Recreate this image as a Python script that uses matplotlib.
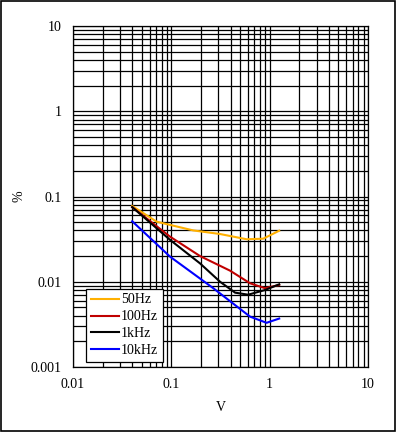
import matplotlib
matplotlib.use('Agg')
import matplotlib.pyplot as plt
import matplotlib.ticker as ticker

plt.rcParams['font.family'] = ['Liberation Serif', 'DejaVu Serif']

# values (V, %)
v_50hz = [0.04, 0.071, 0.167, 0.313, 0.584, 0.861, 1.25]
thd_50hz = [0.0774, 0.0506, 0.040, 0.0363, 0.0315, 0.032, 0.0397]

v_100hz = [0.04, 0.097, 0.196, 0.395, 0.631, 0.897, 1.25]
thd_100hz = [0.075, 0.0338, 0.020, 0.0135, 0.0096, 0.0084, 0.00916]

v_1khz = [0.04, 0.097, 0.196, 0.313, 0.445, 0.604, 0.897, 1.25]
thd_1khz = [0.075, 0.031, 0.0164, 0.0100, 0.00745, 0.00705, 0.008, 0.00933]

v_10khz = [0.04, 0.097, 0.267, 0.631, 0.93, 1.25]
thd_10khz = [0.0512, 0.0197, 0.0084, 0.0039, 0.0033, 0.0037]

x_ticks = [0.01, 0.1, 1, 10]
x_labels = ['0.01', '0.1', '1', '10']
y_ticks = [0.001, 0.01, 0.1, 1, 10]
y_labels = ['0.001', '0.01', '0.1', '1', '10']

fig = plt.figure(figsize=(3.96, 4.32), dpi=100)
ax = fig.add_axes([73 / 396, 1 - 367 / 432, 295 / 396, 341 / 432])

ax.plot(v_50hz, thd_50hz, color='#FFB000', linewidth=1.5, label='50Hz')
ax.plot(v_100hz, thd_100hz, color='#C00000', linewidth=1.5, label='100Hz')
ax.plot(v_1khz, thd_1khz, color='black', linewidth=1.5, label='1kHz')
ax.plot(v_10khz, thd_10khz, color='#0000FF', linewidth=1.5, label='10kHz')

ax.set_xscale('log')
ax.set_yscale('log')
ax.set_xlim(0.01, 10)
ax.set_ylim(0.001, 10)
ax.set_xticks(x_ticks)
ax.set_xticklabels(x_labels)
ax.set_yticks(y_ticks)
ax.set_yticklabels(y_labels)
ax.xaxis.set_minor_locator(ticker.LogLocator(base=10, subs=range(2, 10)))
ax.yaxis.set_minor_locator(ticker.LogLocator(base=10, subs=range(2, 10)))
ax.xaxis.set_minor_formatter(ticker.NullFormatter())
ax.yaxis.set_minor_formatter(ticker.NullFormatter())
ax.grid(True, which='both', color='black', linewidth=0.9)
ax.set_axisbelow(True)
ax.tick_params(which='both', length=0, labelsize=10, pad=8)
for s in ax.spines.values():
    s.set_linewidth(0.9)

ax.set_xlabel('V', fontsize=10, labelpad=7)
ax.set_ylabel('%', fontsize=10, labelpad=4)

leg = ax.legend(loc='lower left', bbox_to_anchor=(13 / 295, 5 / 341), fontsize=10,
                fancybox=False, framealpha=1, edgecolor='black', borderpad=0.35,
                handlelength=2.0, handletextpad=0.15, labelspacing=0.28, borderaxespad=0)
leg.get_frame().set_linewidth(0.9)

# outer border of the figure
fig.patches.append(plt.Rectangle((0.002, 0.002), 0.996, 0.996, transform=fig.transFigure,
                                 fill=False, edgecolor='black', linewidth=1.2))

fig.savefig('out.png', dpi=100)
